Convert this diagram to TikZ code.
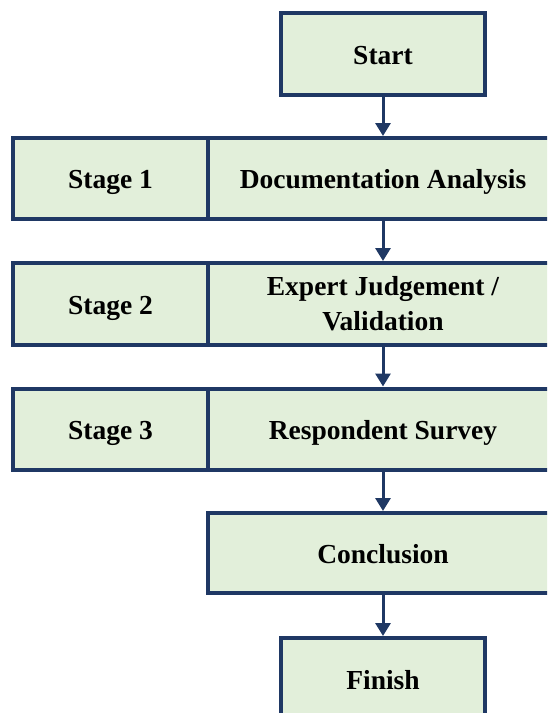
\documentclass[tikz,border=0pt]{standalone}
\usepackage{fontspec}
\setmainfont{Liberation Serif}
\usetikzlibrary{arrows.meta}
\definecolor{boxfill}{HTML}{E2EFDA}
\definecolor{boxline}{HTML}{1F3864}
\begin{document}
\begin{tikzpicture}[x=1pt,y=-1pt,
  box/.style={draw=boxline, fill=boxfill, line width=4pt, rectangle, inner sep=0pt,
    align=center, font=\fontsize{27.5}{35}\selectfont\bfseries},
  one/.style={text height=20pt, text depth=0pt},
  flow/.style={draw=boxline, line width=3pt, -{Triangle[width=15pt,length=13pt]}}]
\useasboundingbox (0,0) rectangle (547,713);
\clip (0,0) rectangle (547,713);
\node[box, one, minimum width=204pt, minimum height=82pt] (start) at (383,54) {Start};
\node[box, one, minimum width=195pt, minimum height=81pt] (s1) at (110.5,178.5) {Stage 1};
\node[box, one, minimum width=350pt, minimum height=81pt] (r1) at (383,178.5) {Documentation Analysis};
\node[box, one, minimum width=195pt, minimum height=82pt] (s2) at (110.5,304) {Stage 2};
\node[box, minimum width=350pt, minimum height=82pt] (r2) at (383,304) {Expert Judgement /\\Validation};
\node[box, one, minimum width=195pt, minimum height=81pt] (s3) at (110.5,429) {Stage 3};
\node[box, one, minimum width=350pt, minimum height=81pt] (r3) at (383,429) {Respondent Survey};
\node[box, one, minimum width=350pt, minimum height=80pt] (concl) at (383,553) {Conclusion};
\node[box, one, minimum width=204pt, minimum height=82pt] (finish) at (383,679) {Finish};
\draw[flow] (start.south) -- (r1.north);
\draw[flow] (r1.south) -- (r2.north);
\draw[flow] (r2.south) -- (r3.north);
\draw[flow] (r3.south) -- (concl.north);
\draw[flow] (concl.south) -- (finish.north);
\end{tikzpicture}
\end{document}
